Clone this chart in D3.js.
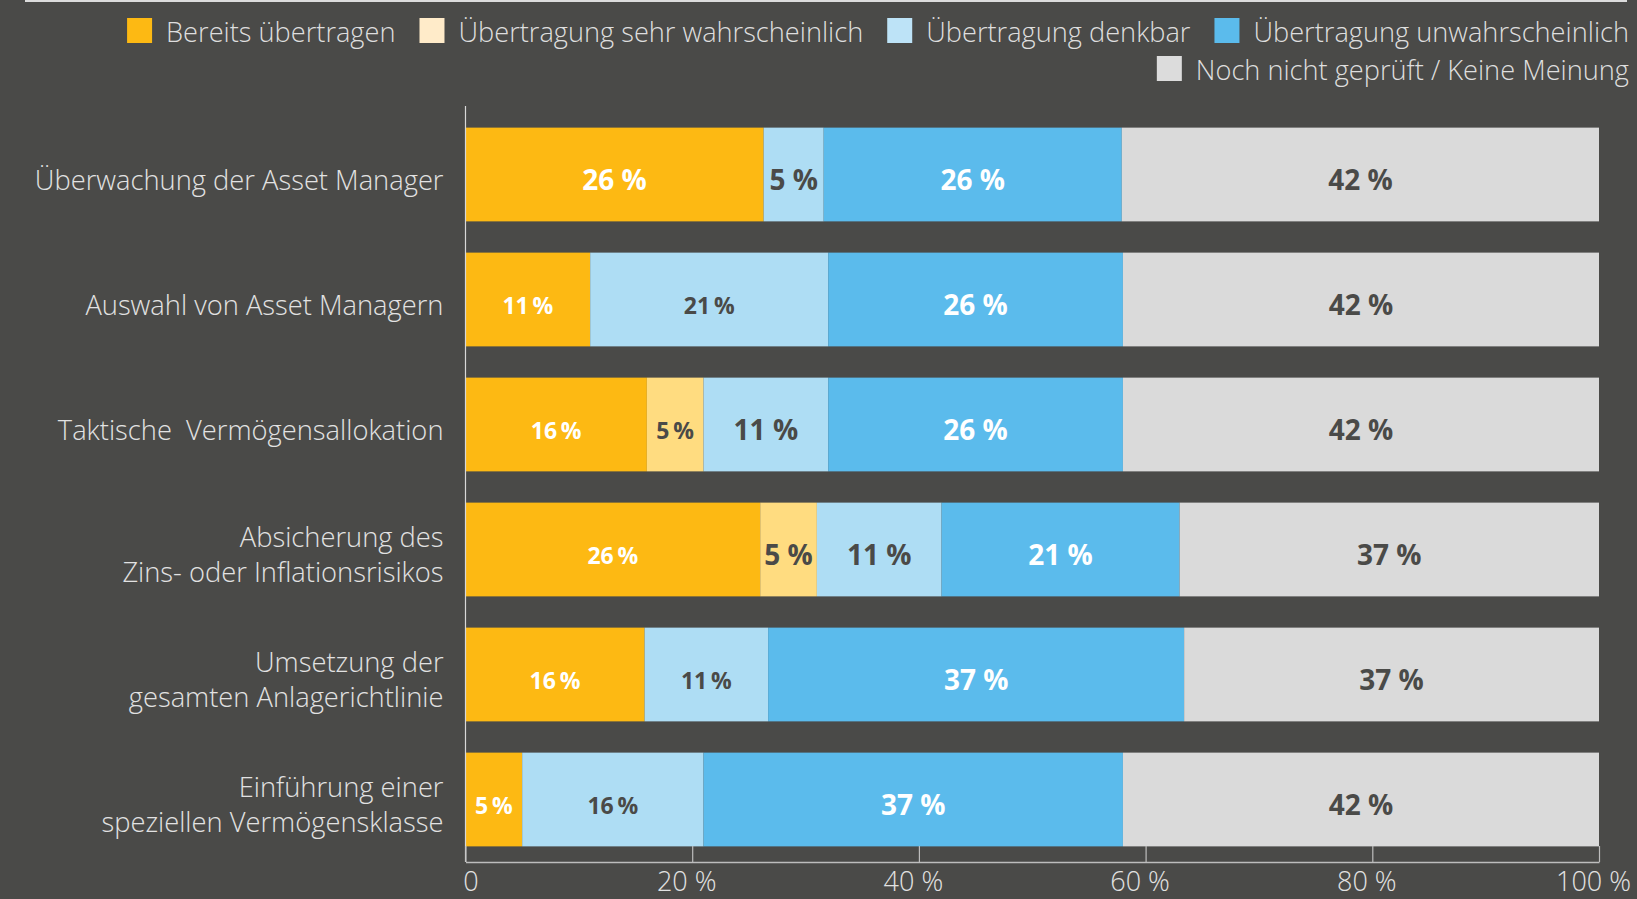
<!DOCTYPE html>
<html>
<head>
<meta charset="utf-8">
<script src="https://cdn.jsdelivr.net/npm/d3@7"></script>
<style>
  html, body { margin: 0; padding: 0; background: #4a4a48; }
  svg { display: block; }
  text { white-space: pre; }
</style>
</head>
<body>
<svg id="chart" width="1637" height="899"></svg>
<script>
// ---------- data ----------
const categories = [
  ["Überwachung der Asset Manager"],
  ["Auswahl von Asset Managern"],
  ["Taktische  Vermögensallokation"],
  ["Absicherung des", "Zins- oder Inflationsrisikos"],
  ["Umsetzung der", "gesamten Anlagerichtlinie"],
  ["Einführung einer", "speziellen Vermögensklasse"]
];
const seriesNames = [
  "Bereits übertragen",
  "Übertragung sehr wahrscheinlich",
  "Übertragung denkbar",
  "Übertragung unwahrscheinlich",
  "Noch nicht geprüft / Keine Meinung"
];
const bereitsUebertragen      = [26.3, 11, 16, 26, 15.8, 5];
const sehrWahrscheinlich      = [0,    0,  5,  5,  0,    0];
const denkbar                 = [5.3,  21, 11, 11, 10.9, 16];
const unwahrscheinlich        = [26.3, 26, 26, 21, 36.7, 37];
const nochNichtGeprueft       = [42.1, 42, 42, 37, 36.6, 42];
const tickValues = [0, 20, 40, 60, 80, 100];
const tickLabels = ["0", "20 %", "40 %", "60 %", "80 %", "100 %"];

// ---------- styles ----------
const barColors    = ["#fdb913", "#ffdc80", "#aeddf4", "#5bbbec", "#dadada"];
const legendColors = ["#fdb913", "#ffebc9", "#bde3f7", "#5bbbec", "#dcdcdc"];
const labelColors  = ["#ffffff", "#4a4a48", "#4a4a48", "#ffffff", "#4a4a48"];
// label size per row/series: true = large
const largeLabel = [
  [true,  false, true,  true, true],
  [false, false, false, true, true],
  [false, false, true,  true, true],
  [false, true,  true,  true, true],
  [false, false, false, true, true],
  [false, false, false, true, true]
];

const allSeries = [bereitsUebertragen, sehrWahrscheinlich, denkbar, unwahrscheinlich, nochNichtGeprueft];

const svg = d3.select("#chart");
const W = 1637, H = 899;
svg.append("rect").attr("width", W).attr("height", H).attr("fill", "#4a4a48");

// top frame line
svg.append("rect").attr("x", 25).attr("y", 0).attr("width", 1602).attr("height", 2).attr("fill", "#dcdcdc");

const x = d3.scaleLinear().domain([0, 100]).range([465.5, 1599]);
const y = d3.scaleBand().domain(d3.range(categories.length)).range([112, 862])
  .paddingInner(0.25).paddingOuter(0.125);

// stacked data
const rows = categories.map((c, i) => {
  const o = { idx: i };
  allSeries.forEach((s, k) => o["s" + k] = s[i]);
  return o;
});
const stack = d3.stack().keys(allSeries.map((s, k) => "s" + k));
const stacked = stack(rows);

const gBars = svg.append("g");
stacked.forEach((layer, k) => {
  const g = gBars.append("g").attr("fill", barColors[k]);
  g.selectAll("rect").data(layer.filter(d => d[1] - d[0] > 0)).join("rect")
    .attr("x", d => x(d[0]))
    .attr("y", d => y(d.data.idx))
    .attr("width", d => x(d[1]) - x(d[0]))
    .attr("height", y.bandwidth());
  g.selectAll("text").data(layer.filter(d => d[1] - d[0] > 0)).join("text")
    .attr("x", d => (x(d[0]) + x(d[1])) / 2)
    .attr("y", d => y(d.data.idx) + y.bandwidth() / 2 + (largeLabel[d.data.idx][k] ? 15 : 14))
    .attr("text-anchor", "middle")
    .attr("font-family", "'Open Sans', sans-serif")
    .attr("font-weight", 700)
    .attr("font-size", d => largeLabel[d.data.idx][k] ? 28 : 23)
    .attr("fill", labelColors[k])
    .text(d => {
      const v = Math.round(d[1] - d[0]);
      return largeLabel[d.data.idx][k] ? v + " %" : v + "\u2009%";
    });
});

// vertical axis line
svg.append("line")
  .attr("x1", x(0)).attr("x2", x(0))
  .attr("y1", y.range()[0] - 6).attr("y2", y.range()[1])
  .attr("stroke", "#d8d8d8").attr("stroke-width", 1.2);

// category labels
const gCat = svg.append("g");
categories.forEach((lines, i) => {
  const cy = y(i) + y.bandwidth() / 2;
  const t = gCat.append("text")
    .attr("text-anchor", "end")
    .attr("font-family", "'Open Sans', sans-serif")
    .attr("font-weight", 300)
    .attr("font-size", 27.3)
    .attr("fill", "#e2e2e2");
  lines.forEach((ln, j) => {
    t.append("tspan")
      .attr("x", 443.5)
      .attr("y", cy + 15 + (j - (lines.length - 1) / 2) * 35)
      .text(ln);
  });
});

// x axis
const xAxis = d3.axisBottom(x)
  .tickValues(tickValues)
  .tickFormat((d, i) => tickLabels[i])
  .tickSize(-16)
  .tickSizeOuter(0)
  .tickPadding(10);
const gx = svg.append("g").attr("transform", `translate(0,${y.range()[1]})`).call(xAxis);
gx.select(".domain").attr("stroke", "#bdbdbd").attr("stroke-width", 1.5);
gx.selectAll(".tick line").attr("stroke", "#bdbdbd").attr("stroke-width", 1.2);
gx.selectAll(".tick text")
  .attr("font-family", "'Open Sans', sans-serif")
  .attr("font-weight", 300)
  .attr("font-size", 27)
  .attr("fill", "#e2e2e2")
  .attr("dx", d => d === 0 ? 5 : -6);

// legend
const legendFont = { family: "'Open Sans', sans-serif", weight: 300, size: 27.2 };
const legendRows = [[0, 1, 2, 3], [4]];
const legendRowY = [30.5, 68.5];
const swatch = 25, swGap = 14, itemGap = 24, rightEdge = 1629;
const gLeg = svg.append("g");
legendRows.forEach((items, r) => {
  const widths = items.map(k => {
    const t = gLeg.append("text")
      .attr("font-family", legendFont.family).attr("font-weight", legendFont.weight)
      .attr("font-size", legendFont.size).text(seriesNames[k]);
    const w = t.node().getComputedTextLength();
    t.remove();
    return w;
  });
  let cursor = rightEdge;
  for (let n = items.length - 1; n >= 0; n--) {
    const k = items[n];
    const tx = cursor - widths[n];
    const sx = tx - swGap - swatch;
    gLeg.append("rect").attr("x", sx).attr("y", legendRowY[r] - swatch / 2)
      .attr("width", swatch).attr("height", swatch).attr("fill", legendColors[k]);
    gLeg.append("text").attr("x", tx).attr("y", legendRowY[r] + 11.5)
      .attr("font-family", legendFont.family).attr("font-weight", legendFont.weight)
      .attr("font-size", legendFont.size).attr("fill", "#dedede")
      .text(seriesNames[k]);
    cursor = sx - itemGap;
  }
});
</script>
</body>
</html>
